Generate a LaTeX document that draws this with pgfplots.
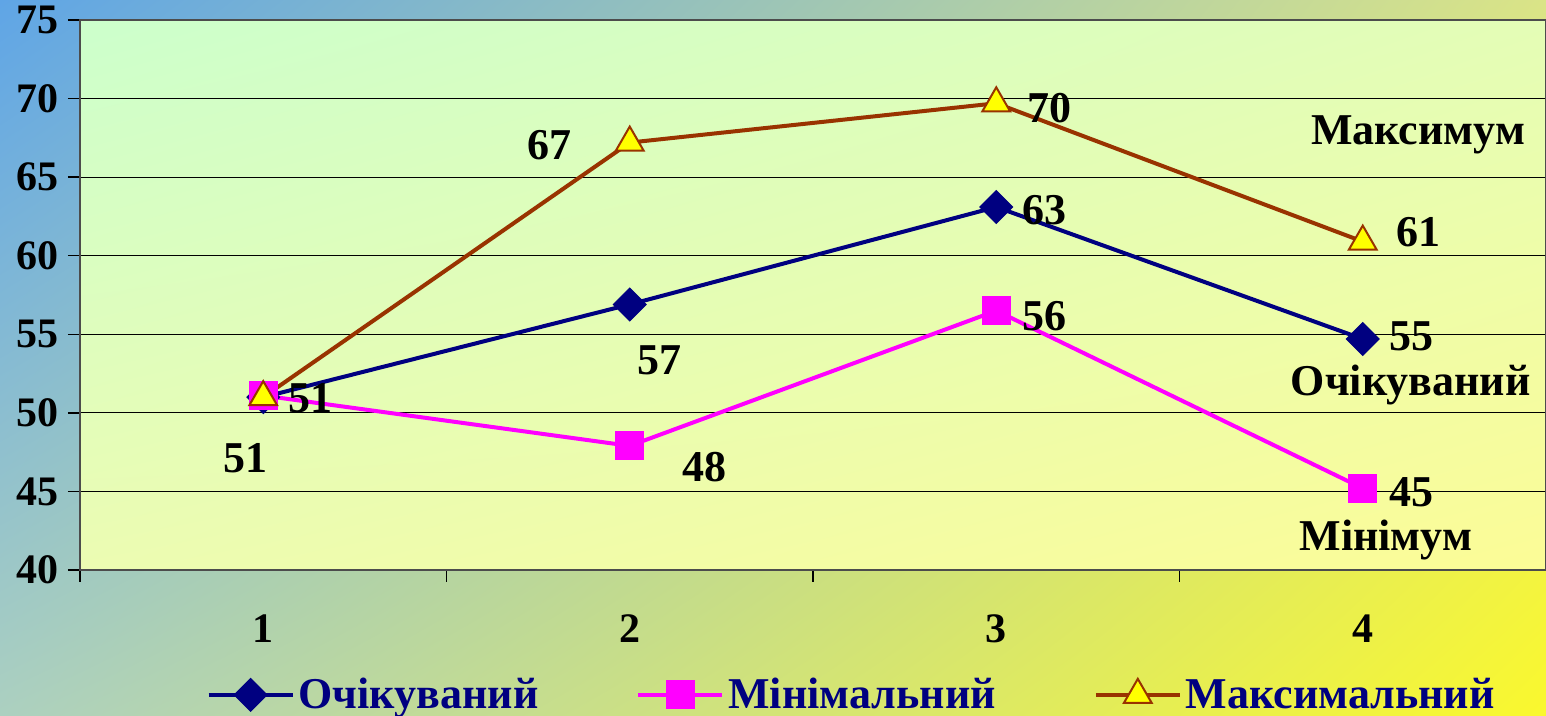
\documentclass[border=0pt]{standalone}
\usepackage{pgfplots}
\pgfplotsset{compat=1.18}
\usetikzlibrary{shadings}
\usepackage{fontspec}
\setmainfont{Liberation Serif}
\definecolor{bgTL}{RGB}{95,165,230}
\definecolor{bgTR}{RGB}{218,228,135}
\definecolor{bgBL}{RGB}{172,208,192}
\definecolor{bgBR}{RGB}{250,248,45}
\definecolor{paTL}{RGB}{204,255,204}
\definecolor{paTR}{RGB}{228,253,182}
\definecolor{paBL}{RGB}{236,252,178}
\definecolor{paBR}{RGB}{252,252,150}
\definecolor{navyc}{RGB}{0,0,128}
\definecolor{magc}{RGB}{255,0,255}
\definecolor{brownc}{RGB}{153,51,0}
\definecolor{yelc}{RGB}{255,255,0}
\begin{document}
\begin{tikzpicture}
\shade[upper left=bgTL, upper right=bgTR, lower left=bgBL, lower right=bgBR] (-40pt,-73pt) rectangle (733pt,285pt);
\begin{axis}[
  at={(0pt,0pt)}, anchor=south west,
  scale only axis, width=733pt, height=275pt,
  xmin=0.5, xmax=4.5, ymin=40, ymax=75,
  axis background/.style={shade, upper left=paTL, upper right=paTR, lower left=paBL, lower right=paBR},
  axis line style={black!70, line width=1pt},
  ytick={40,45,...,75},
  xtick pos=bottom, ytick pos=left,
  ymajorgrids, major grid style={black, line width=0.6pt},
  tick align=outside, major tick length=6pt,
  tick style={black, line width=0.7pt},
  xtick={0.5,1.5,2.5,3.5}, xticklabels={},
  extra x ticks={1,2,3,4}, extra x tick labels={1,2,3,4},
  extra x tick style={tick style={draw=none}, tick label style={yshift=-13pt}},
  /pgf/number format/assume math mode=true,
  tick label style={font=\fontsize{21}{23}\selectfont\bfseries, black},
  yticklabel style={xshift=-1pt},
  legend columns=3,
  legend style={at={(0.527,-0.227)}, anchor=center, draw=none, fill=none,
    font=\fontsize{22}{24}\selectfont\bfseries, text=navyc,
    /tikz/every even column/.append style={column sep=47pt}},
  legend image code/.code={\draw[mark repeat=2,mark phase=2,#1] plot coordinates {(0pt,0pt) (21pt,0pt) (42pt,0pt)};},
  clip=false,
]
\addplot[navyc, line width=2pt, mark=square*, mark size=5.8pt, mark options={rotate=45, fill=navyc, line width=0.5pt}]
  coordinates {(1,51.0) (2,56.9) (3,63.1) (4,54.7)};
\addlegendentry{Очікуваний}
\addplot[magc, line width=2pt, mark=square*, mark size=7pt, mark options={fill=magc, line width=0.5pt}]
  coordinates {(1,51.1) (2,47.9) (3,56.5) (4,45.2)};
\addlegendentry{Мінімальний}
\addplot[brownc, line width=2pt, mark=triangle*, mark size=8pt, mark options={fill=yelc, draw=brownc, line width=1pt}]
  coordinates {(1,51.0) (2,67.2) (3,69.7) (4,60.9)};
\addlegendentry{Максимальний}
\begin{scope}[every node/.style={font=\fontsize{22}{24}\selectfont\bfseries, text=black, inner sep=0pt}]
\node at (axis cs:0.951,47.13) {51};
\node at (axis cs:1.128,50.95) {51};
\node at (axis cs:2.082,53.36) {57};
\node at (axis cs:1.782,67.05) {67};
\node at (axis cs:2.204,46.55) {48};
\node at (axis cs:3.144,69.40) {70};
\node at (axis cs:3.131,62.91) {63};
\node at (axis cs:3.131,56.16) {56};
\node at (axis cs:4.153,61.51) {61};
\node at (axis cs:4.134,54.90) {55};
\node at (axis cs:4.131,51.75) {Очікуваний};
\node at (axis cs:4.134,44.96) {45};
\node at (axis cs:4.151,67.68) {Максимум};
\node at (axis cs:4.063,41.91) {Мінімум};
\end{scope}
\end{axis}
\pgfresetboundingbox
\useasboundingbox (-40pt,-73pt) rectangle (733pt,285pt);
\end{tikzpicture}
\end{document}
